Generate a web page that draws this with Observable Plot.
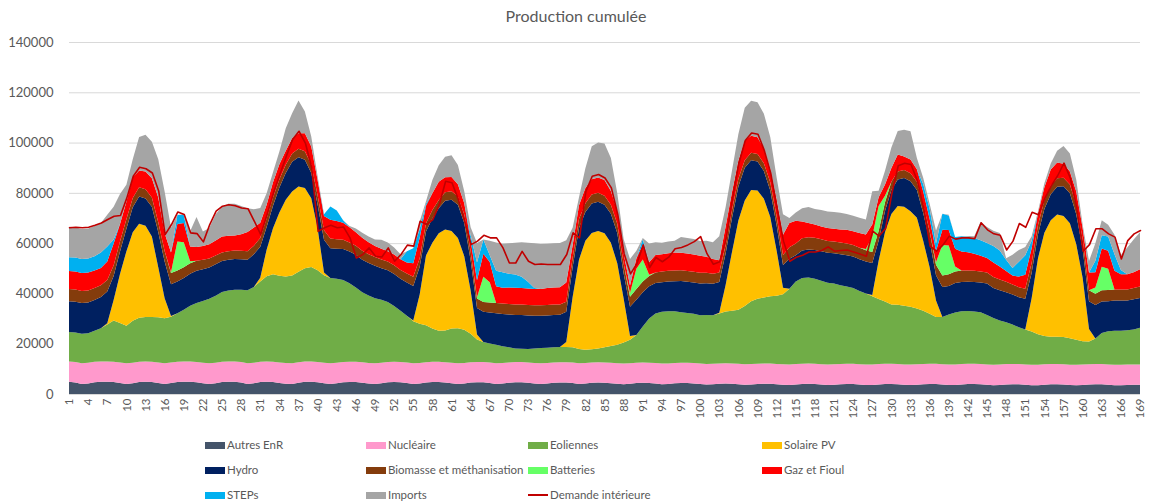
<!DOCTYPE html>
<html><head><meta charset="utf-8">
<script src="https://cdn.jsdelivr.net/npm/d3@7"></script>
<script src="https://cdn.jsdelivr.net/npm/@observablehq/plot@0.6"></script>
<style>
body{margin:0;background:#fff;}
#wrap{position:relative;width:1152px;height:504px;font-family:Lato,"Liberation Sans",sans-serif;color:#595959;overflow:hidden;}
#title{position:absolute;top:6px;left:0;width:1152px;text-align:center;font-size:16px;}
#chart{position:absolute;top:30px;left:0;}
.lg{position:absolute;font-size:11.5px;line-height:16px;white-space:nowrap;}
.sw{position:absolute;width:20px;height:7px;}
.ln{position:absolute;width:20px;height:2px;}
</style></head><body>
<div id="wrap"><div id="title">Production cumulée</div><div id="chart"></div></div>
<script>
const hours = d3.range(1, 170);
const xTicks = [1,4,7,10,13,16,19,22,25,28,31,34,37,40,43,46,49,52,55,58,61,64,67,70,73,76,79,82,85,88,91,94,97,100,103,106,109,112,115,118,121,124,127,130,133,136,139,142,145,148,151,154,157,160,163,166,169];
const yTicks = [0,20000,40000,60000,80000,100000,120000,140000];

const autresEnR = [
4900,4600,4000,4200,4700,4900,4900,4800,4400,4000,
4300,4800,4900,4800,4400,4000,4400,4800,4900,4900,
4700,4300,4000,4300,4800,4900,4900,4600,4000,4300,
4800,4900,4800,4400,4100,4000,4500,4900,4900,4700,
4300,4000,4300,4700,4800,4800,4500,4200,4000,4300,
4700,4800,4700,4400,4000,4200,4600,4800,4800,4600,
4300,4000,4200,4600,4700,4700,4400,4000,4200,4500,
4700,4700,4500,4200,4000,4200,4500,4600,4600,4400,
4000,4200,4500,4600,4500,4300,4100,3900,4100,4400,
4500,4400,4200,3900,4000,4300,4400,4400,4200,4000,
3800,3900,4100,4200,4100,3900,3700,3800,4000,4100,
4100,3900,3700,3600,3800,4000,4100,4000,3800,3600,
3700,3900,4000,4000,3800,3600,3600,3800,4000,4000,
3900,3700,3600,3700,3900,4000,4000,3800,3600,3600,
3800,4000,4000,3900,3700,3500,3600,3800,3900,3900,
3700,3500,3500,3700,3900,3900,3800,3600,3500,3600,
3800,3900,3900,3700,3500,3500,3600,3700,3700];

const nucleaire = [
8000,8100,8200,8200,8100,8000,8000,8000,8100,8200,
8100,8000,8000,8000,8100,8200,8100,8000,8000,8000,
8000,8100,8200,8100,8000,8000,8000,8100,8200,8100,
8000,8000,8000,8100,8200,8200,8100,8000,8000,8000,
8100,8200,8100,8000,8000,8000,8100,8100,8200,8100,
8000,8000,8000,8100,8200,8100,8000,8000,8000,8000,
8100,8200,8100,8000,8000,8000,8100,8200,8100,8000,
8000,8000,8000,8100,8200,8100,8000,8000,8000,8100,
8200,8100,8000,8000,8000,8100,8100,8200,8100,8000,
8000,8000,8100,8200,8100,8000,8000,8000,8100,8100,
8100,8100,8000,8000,8000,8100,8100,8100,8000,8000,
8000,8000,8100,8100,8100,8000,8000,8000,8000,8100,
8100,8000,8000,8000,8000,8100,8100,8100,8000,8000,
8000,8000,8100,8100,8000,8000,8000,8000,8100,8100,
8100,8000,8000,8000,8000,8100,8100,8100,8000,8000,
8000,8100,8100,8100,8000,8000,8000,8000,8100,8100,
8000,8000,8000,8000,8100,8100,8100,8000,8000];

const eoliennes = [
11800,11800,11800,11800,12400,13300,14700,16400,15700,14900,
16700,17500,17700,17800,18000,17900,18200,19300,20600,22200,
23500,24600,25700,26700,27800,28300,28600,28800,29100,30200,
31900,33900,34800,34500,34400,34900,36000,37100,37600,36500,
34800,33900,33400,32600,31200,29600,27900,26900,25900,25100,
23900,22200,20400,18600,16700,15600,14700,13300,12400,12700,
13700,14000,13300,11400,9000,8000,7600,7400,6700,6100,
5400,5300,5400,5800,6100,6100,6100,6100,6100,6100,
5700,5300,5300,5500,6100,6700,7400,8400,9400,11100,
14300,17600,19700,20600,20800,20600,20100,19800,19600,19200,
19500,19300,19900,20600,21000,21500,23200,25000,25900,26300,
26800,27200,27900,30200,32800,34100,34200,33800,33200,32500,
32100,31400,30800,30200,29200,28300,27200,25900,24800,23600,
23600,23400,23000,22200,21200,19900,18600,18800,19900,20700,
21000,21000,20800,20600,19700,18600,17500,16600,15700,14600,
14000,13300,12200,11300,10900,10900,10900,10600,10000,9300,
9100,10200,12400,13300,13600,13600,13700,14000,14600];

const solairePV = [
0,0,0,0,0,0,500,8200,19500,29600,
35200,37400,36300,32000,19900,8000,300,0,0,0,
0,0,0,0,0,0,0,0,0,0,
1500,10600,18300,25200,30600,33400,33900,31900,27400,16600,
1100,0,0,0,0,0,0,0,0,0,
0,0,0,0,300,11600,27800,34100,38700,40100,
38700,35800,29200,17200,2000,0,0,0,0,0,
0,0,0,0,0,0,0,0,2000,20000,
35500,43400,46200,46700,45300,41100,32400,17500,1500,0,
0,0,0,0,0,0,0,0,0,0,
0,0,300,10600,23400,35500,42000,44200,43000,39300,
31500,17900,2600,0,0,0,0,0,0,0,
0,0,0,0,0,0,500,15200,27500,36000,
39300,39400,38000,36100,27800,18500,6600,0,0,0,
0,0,0,0,0,0,0,0,0,0,
0,13200,30200,41000,46300,48600,48100,45700,38000,25200,
5000,0,0,0,0,0,0,0,0];

const hydro = [
12200,12200,12200,12200,12200,12400,12700,9500,9000,9000,
10000,10900,10900,11900,14000,14600,12700,12600,12600,12700,
12800,12600,12400,12500,12300,12200,12200,12100,12100,13000,
12400,9000,9000,9900,10600,11900,11700,11300,10000,9500,
13000,11900,12000,12400,12700,13000,12900,12900,12900,12500,
12600,12700,12700,13200,13800,11000,9500,9700,10000,11500,
12500,13300,13200,12000,10500,12000,12300,12500,12800,13000,
13300,13400,13300,13000,12800,12800,12800,12800,12000,11800,
12600,11400,11800,11700,11400,11500,12000,10000,11600,14000,
13700,12900,12100,11700,11800,11900,12400,12400,12400,12600,
12600,12500,12200,12500,13500,13500,13000,11900,11600,11000,
10500,10000,9000,11900,10500,11000,11200,11500,11800,12000,
12100,12300,12400,12500,12600,12700,12700,8000,8500,9500,
10500,11400,11900,11000,11000,10500,10000,12000,11400,11700,
11600,11600,11700,11800,12500,12000,12100,12000,12000,12000,
12200,10000,9500,9500,10300,11000,11800,11900,11900,11500,
11000,13300,12500,11900,12000,12000,11800,12000,11900];

const biomasse = [
4900,4900,4800,4800,4800,4700,4500,4200,4000,3800,
3700,3600,3600,3700,3900,4200,4400,4400,4300,4200,
4000,3800,3600,3500,3400,3400,3400,3400,3400,3400,
3400,3400,3300,3300,3300,3300,3300,3300,3400,3600,
3800,3800,3700,3600,3600,3600,3600,3500,3500,3500,
3500,3500,3500,3600,3600,3400,3300,3300,3300,3300,
3300,3300,3400,3600,3800,3900,4000,4100,4200,4200,
4200,4200,4200,4200,4200,4200,4200,4100,4000,3800,
3600,3500,3500,3500,3500,3600,3700,3900,4000,4300,
4200,4000,4200,4300,4300,4300,4300,4300,4300,4300,
4200,4000,3800,3300,3200,3100,3000,3000,3000,3100,
3300,3600,4000,4600,4700,4800,4800,4800,4700,4700,
4700,4700,4700,4600,4600,4500,4400,3800,3500,3300,
3200,3200,3200,3300,3500,3800,4200,4500,4600,4600,
4600,4500,4500,4400,4400,4300,4200,4100,4000,4000,
4000,4000,3700,3500,3400,3400,3400,3500,3700,4000,
4400,4500,4500,4500,4400,4400,4400,4500,4600];

const batteries = [
0,0,0,0,0,0,0,0,0,0,
0,0,0,0,0,0,300,11600,10000,800,
0,0,0,0,0,0,0,0,0,0,
0,0,0,0,0,0,0,0,0,0,
0,0,0,0,0,0,0,0,0,0,
0,0,0,0,0,0,0,0,0,0,
0,0,0,0,500,10000,8000,0,0,0,
0,0,0,0,0,0,0,0,0,0,
0,0,0,0,0,0,0,0,1500,8000,
8800,500,0,0,0,0,0,0,0,0,
0,0,0,0,0,0,0,0,0,0,
0,0,0,0,0,0,0,0,0,0,
0,0,0,0,0,500,6000,10000,2500,0,
0,0,0,0,0,0,1000,12200,11500,2000,
0,0,0,0,0,0,0,0,0,0,
0,0,0,0,0,0,0,0,0,0,
0,2500,9300,8400,0,0,0,0,0];

const gazFioul = [
7100,7100,7100,7100,6900,6800,7400,8800,6900,7000,
8100,6700,7100,7600,9900,7100,7900,6900,7600,5900,
5500,5500,5700,6000,6300,6100,5900,6500,7600,7200,
6100,5500,6000,6000,5500,6000,6200,7200,7100,6100,
5700,7500,7300,6800,6000,5300,5100,4800,4400,4300,
4100,4300,4300,4400,5400,8100,7000,6600,7200,6000,
5700,4800,4500,4300,6700,9200,8100,6700,6300,6600,
6700,6600,6600,6500,6500,6800,6800,6900,7600,5000,
5500,6000,6100,6100,6300,5400,5000,4000,3000,4100,
6000,5000,7000,6900,7000,7200,7000,7000,6900,6800,
6400,5900,4900,7400,7100,7200,7800,6700,6600,5800,
5400,6900,8000,9600,9000,6700,5700,5300,5100,5100,
5000,5100,5400,5400,5800,5700,4900,3500,4500,5500,
6800,5400,5500,5000,5000,5000,4500,6000,6100,7100,
7600,7300,6800,6300,5800,5800,5200,4300,3500,4200,
5500,5900,4700,5100,6500,6300,5600,5200,5300,4300,
7000,6000,7300,7200,7400,6000,6000,6200,6800];

const steps = [
5500,5600,5600,5600,5700,6200,6000,1500,0,0,
0,0,0,0,0,0,0,3600,3300,0,
0,0,0,0,0,0,0,0,0,0,
0,0,0,0,0,0,0,0,0,0,
700,5300,4200,1000,0,0,0,0,0,0,
0,0,0,4500,6000,3500,800,0,0,0,
0,0,0,2000,7100,5600,2700,6100,6100,5400,
5200,4400,2600,400,0,0,0,0,0,0,
0,0,0,0,0,0,0,0,0,0,
2000,0,0,0,0,0,0,0,0,0,
0,0,0,0,0,0,0,0,0,0,
0,0,0,0,0,0,0,0,0,0,
0,0,0,0,0,0,0,0,0,0,
0,0,0,0,3000,4000,3000,6400,5800,4600,
6000,6100,6200,6200,6000,6600,6400,4500,3000,5900,
7800,3000,0,0,0,0,0,0,0,0,
0,4600,5200,5600,6600,1700,0,0,0];

const imports = [
12100,12000,11900,11900,12000,11700,12600,13100,11900,6700,
7300,13300,14600,14500,15200,16500,9900,0,300,6000,
11900,5700,6400,10400,11900,12800,12700,11300,9500,7300,
5900,4500,4000,5000,9000,10000,13000,8700,4000,1500,
0,0,0,0,500,1500,2000,2200,2500,3500,
3500,2800,2000,0,0,3100,1000,5300,6600,8200,
8700,7700,4700,3200,7800,0,5800,11300,11400,12200,
12700,13800,15600,17800,17900,17600,17600,17600,16900,6900,
3200,7900,13100,13900,14500,13200,7100,5700,10500,3100,
500,7500,5100,4600,4700,4700,6200,6100,6100,5900,
6400,6700,9500,7800,8600,10600,13000,13900,13900,13900,
12600,8600,8200,2000,3300,5300,6400,6200,6600,6600,
6700,6700,6300,6200,6100,6000,13200,2500,5500,8100,
9300,10600,11200,4500,2500,2000,5100,0,300,0,
0,300,700,7300,6300,6000,6900,600,5300,4700,
3300,1700,800,1600,2400,4600,7000,7200,4700,1400,
4600,7000,6000,4700,7700,6000,10700,13000,14700];

const demandeInterieure = [
66300,66500,66300,66500,67300,68200,69600,70900,71200,78200,
86800,90400,89800,88100,80800,63600,67600,72600,71600,64300,
64000,60700,67600,72900,74900,75500,75100,74200,73900,68900,
63600,71600,80200,87500,94700,101400,104700,100000,90100,64900,
66300,67300,66300,66600,62300,54300,55700,58300,55000,54700,
58300,53000,55700,59400,59000,68900,67600,69600,75500,84800,
84200,77500,68900,59600,61000,63300,62300,62300,58300,52300,
52300,56900,53000,51700,51900,51700,51700,51700,55700,64300,
62300,80800,86800,87500,86100,82200,71600,56000,48000,52000,
59500,50500,54500,52800,54600,58000,58500,59500,60800,62800,
56000,51800,52800,62000,78000,92000,101000,104000,103500,97000,
88000,74000,61000,53000,54600,55400,56700,56700,57300,58700,
57000,57300,57500,56700,55900,55000,65000,63000,66000,80000,
91000,92000,91500,85000,74000,59000,57000,59400,63000,61800,
62300,62300,62000,68300,65500,63900,63300,57500,61000,68000,
66500,72500,71500,78000,83000,87000,92000,86000,74200,57000,
59600,65900,65900,63900,62600,53900,61200,63900,65200];

const seriesNames = ["Autres EnR","Nucléaire","Eoliennes","Solaire PV","Hydro","Biomasse et méthanisation","Batteries","Gaz et Fioul","STEPs","Imports"];
const seriesColors = ["#44546a","#ff99cc","#70ad47","#ffc000","#002060","#843c0c","#66ff66","#ff0000","#00b0f0","#a5a5a5"];
const seriesValues = [autresEnR,nucleaire,eoliennes,solairePV,hydro,biomasse,batteries,gazFioul,steps,imports];
const demandName = "Demande intérieure";
const demandColor = "#c00000";

[...seriesValues, demandeInterieure].forEach((a, k) => {
  if (a.length !== hours.length) throw new Error("length mismatch in array " + k + ": " + a.length);
});

const rows = [];
seriesNames.forEach((n, k) => hours.forEach((h, i) => rows.push({hour: h, serie: n, value: seriesValues[k][i]})));
const demandRows = hours.map((h, i) => ({hour: h, value: demandeInterieure[i]}));

const chart = Plot.plot({
  width: 1152, height: 400,
  marginTop: 12, marginBottom: 36, marginLeft: 69, marginRight: 12,
  style: {fontFamily: "Lato, sans-serif", fontSize: "12px", color: "#595959", background: "white"},
  x: {domain: [1, 169], label: null},
  y: {domain: [0, 140000], label: null},
  color: {domain: seriesNames, range: seriesColors},
  marks: [
    Plot.gridY(yTicks, {stroke: "#d9d9d9", strokeOpacity: 1}),
    Plot.areaY(rows, {x: "hour", y: "value", fill: "serie", z: "serie", order: seriesNames, curve: "linear"}),
    Plot.lineY(demandRows, {x: "hour", y: "value", stroke: demandColor, strokeWidth: 1.6, curve: "linear"}),
    Plot.axisY(yTicks, {tickSize: 0, tickPadding: 16, tickFormat: d => String(d), fontSize: 13}),
    Plot.axisX(xTicks, {tickSize: 0, tickPadding: 4, tickRotate: -90, tickFormat: d => String(d), fontSize: 11.5})
  ]
});
document.getElementById("chart").appendChild(chart);

// legend
const wrap = document.getElementById("wrap");
const colX = [205, 366, 528, 762];
const rowY = [445, 470, 495];
const legendItems = [
  ["Autres EnR",0,0],["Nucléaire",1,0],["Eoliennes",2,0],["Solaire PV",3,0],
  ["Hydro",0,1],["Biomasse et méthanisation",1,1],["Batteries",2,1],["Gaz et Fioul",3,1],
  ["STEPs",0,2],["Imports",1,2],[demandName,2,2]
];
legendItems.forEach(([name, c, r]) => {
  const x = colX[c], y = rowY[r];
  const sw = document.createElement("div");
  if (name === demandName) {
    sw.className = "ln"; sw.style.background = demandColor;
    sw.style.left = x + "px"; sw.style.top = (y - 1) + "px";
  } else {
    sw.className = "sw"; sw.style.background = seriesColors[seriesNames.indexOf(name)];
    sw.style.left = x + "px"; sw.style.top = (y - 3.5) + "px";
  }
  wrap.appendChild(sw);
  const t = document.createElement("div");
  t.className = "lg"; t.textContent = name;
  t.style.left = (x + 22) + "px"; t.style.top = (y - 8) + "px";
  wrap.appendChild(t);
});
</script>
</body></html>
